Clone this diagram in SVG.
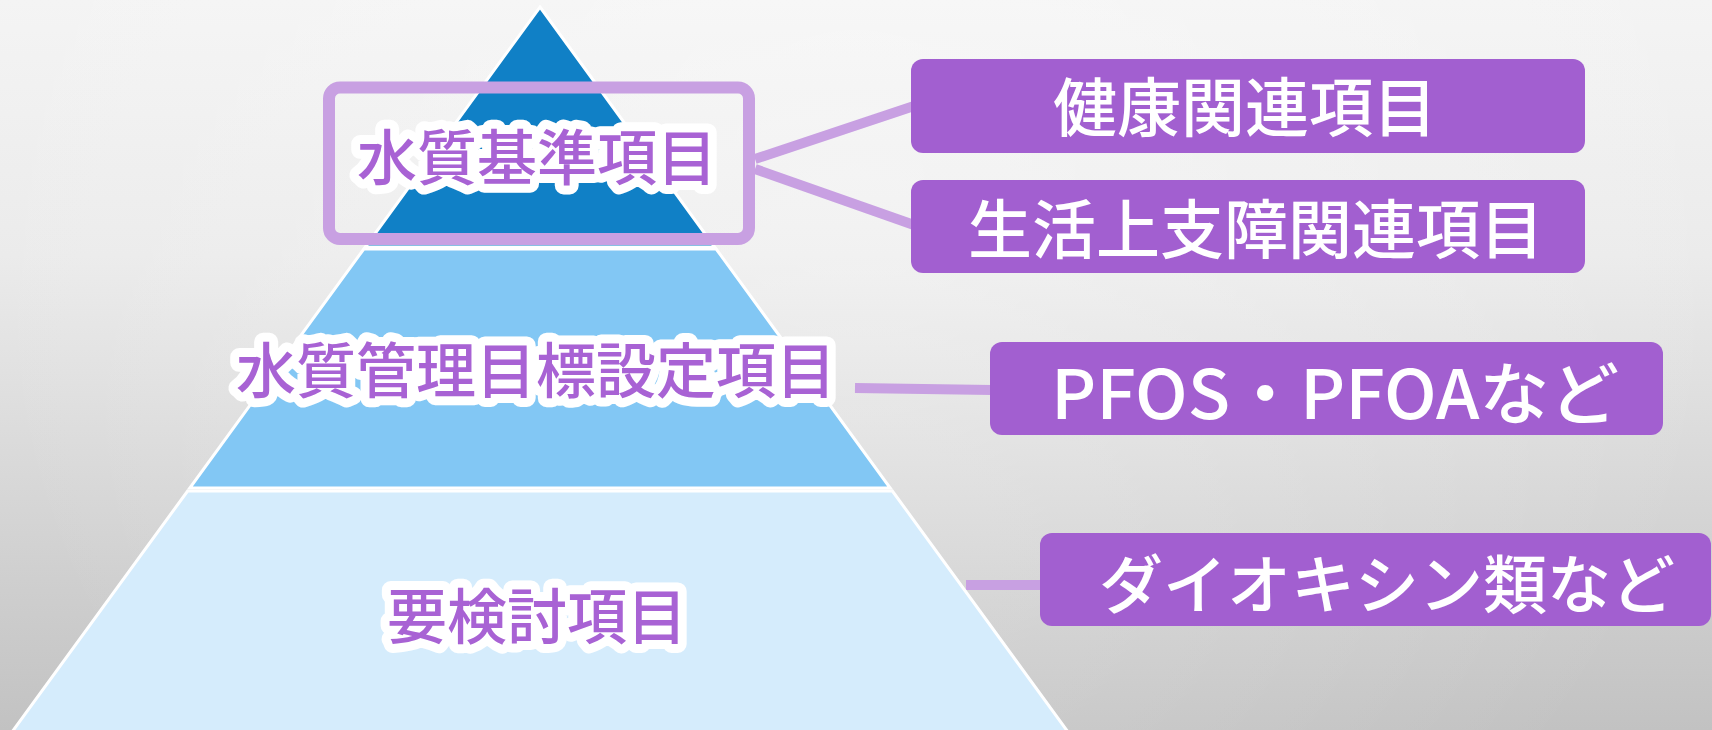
<svg xmlns="http://www.w3.org/2000/svg" width="1712" height="730" viewBox="0 0 1712 730">
  <defs>
    <linearGradient id="bg" x1="0" y1="0" x2="0" y2="1">
      <stop offset="0" stop-color="#f4f4f4"/>
      <stop offset="0.35" stop-color="#ebebeb"/>
      <stop offset="1" stop-color="#c2c2c2"/>
    </linearGradient>
    <radialGradient id="glow" cx="856" cy="180" r="900" gradientUnits="userSpaceOnUse">
      <stop offset="0" stop-color="#ffffff" stop-opacity="0.35"/>
      <stop offset="1" stop-color="#ffffff" stop-opacity="0"/>
    </radialGradient>
  </defs>
  <style>
    .tier { stroke: #ffffff; stroke-width: 3; stroke-linejoin: miter; }
    .t1 { fill: #1080c6; }
    .t2 { fill: #82c7f4; }
    .t3 { fill: #d5ecfc; }
    .lbl { font-family: "Noto Sans CJK JP", "Noto Sans", sans-serif; font-size: 60px; font-weight: 500; fill: #a862d4; stroke: #ffffff; stroke-width: 18px; stroke-linejoin: round; paint-order: stroke fill; text-anchor: middle; dominant-baseline: central; }
    .box { fill: #a25fd0; }
    .btxt { font-family: "Noto Sans CJK JP", "Noto Sans", sans-serif; font-size: 64px; font-weight: 500; fill: #ffffff; text-anchor: middle; dominant-baseline: central; }
    .conn { stroke: #c8a0e2; stroke-width: 10; fill: none; }
    .hl { fill: none; stroke: #c8a0e2; stroke-width: 12; }
  </style>
  <rect x="0" y="0" width="1712" height="730" fill="url(#bg)"/>
  <rect x="0" y="0" width="1712" height="730" fill="url(#glow)"/>

  <g id="connectors">
    <line class="conn" x1="755" y1="159" x2="914" y2="106"/>
    <line class="conn" x1="755" y1="169" x2="914" y2="225"/>
    <line class="conn" x1="855" y1="388" x2="992" y2="390"/>
    <line class="conn" x1="966" y1="585" x2="1042" y2="585"/>
  </g>

  <g id="tier3">
    <polygon class="tier t3" points="187.6,491 892.4,491 1068,732 12,732"/>
    <text class="lbl" x="537" y="612">要検討項目</text>
  </g>
  <g id="tier2">
    <polygon class="tier t2" points="363.8,249 716.2,249 890.2,488 189.8,488"/>
    <text class="lbl" x="536" y="366">水質管理目標設定項目</text>
  </g>
  <g id="tier1">
    <polygon class="tier t1" points="540,7 714.7,247 365.3,247"/>
    <rect class="hl" x="329" y="87.5" width="420" height="151.5" rx="11"/>
    <text class="lbl" x="537" y="153">水質基準項目</text>
  </g>

  <g id="box-health">
    <rect class="box" x="911" y="59" width="674" height="94" rx="12"/>
    <text class="btxt" x="1245" y="103">健康関連項目</text>
  </g>
  <g id="box-life">
    <rect class="box" x="911" y="180" width="674" height="93" rx="12"/>
    <text class="btxt" x="1256" y="225">生活上支障関連項目</text>
  </g>
  <g id="box-pfos">
    <rect class="box" x="990" y="342" width="673" height="93" rx="12"/>
    <text class="btxt" x="1335" y="389" style="font-size:68px" textLength="568" lengthAdjust="spacingAndGlyphs">PFOS・PFOAなど</text>
  </g>
  <g id="box-dioxin">
    <rect class="box" x="1040" y="533" width="671" height="93" rx="12"/>
    <text class="btxt" x="1387" y="580">ダイオキシン類など</text>
  </g>
</svg>
